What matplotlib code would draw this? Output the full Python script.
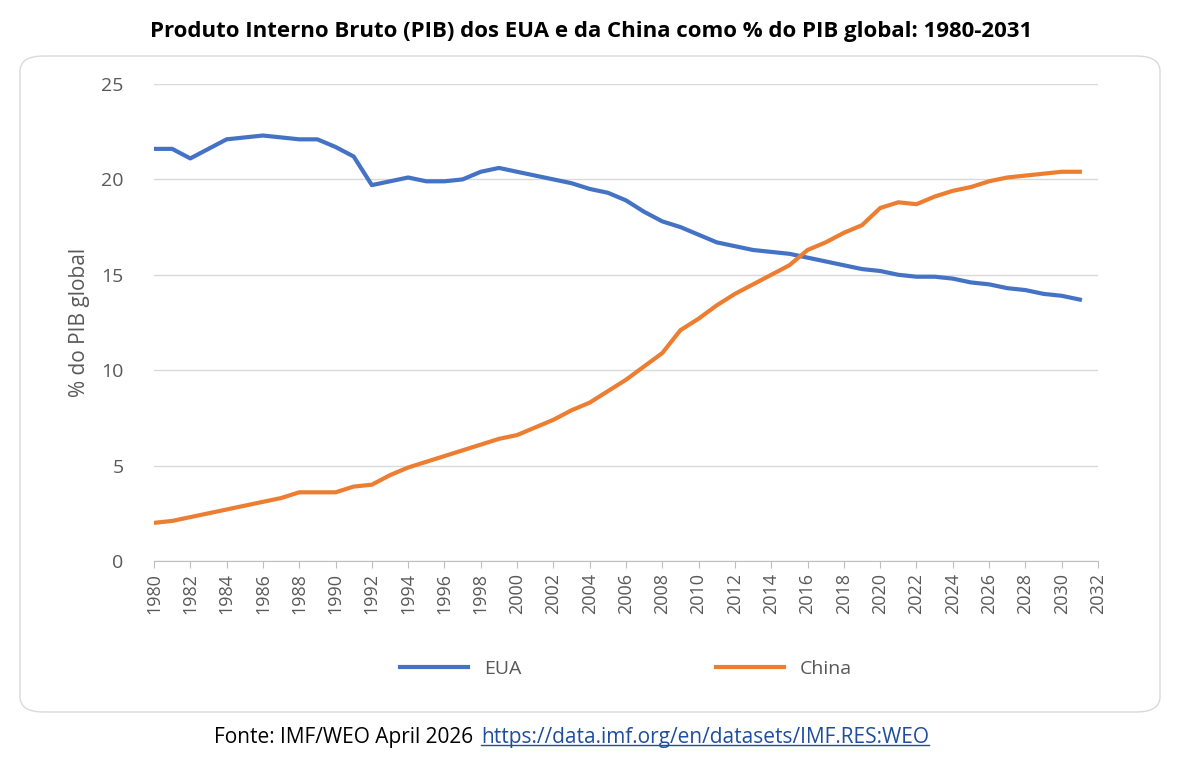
import matplotlib
matplotlib.use("Agg")
import matplotlib.pyplot as plt
from matplotlib.patches import FancyBboxPatch

years = list(range(1980, 2032))
eua = [21.6,21.6,21.1,21.6,22.1,22.2,22.3,22.2,22.1,22.1,21.7,21.2,19.7,19.9,20.1,19.9,19.9,20.0,20.4,20.6,
       20.4,20.2,20.0,19.8,19.5,19.3,18.9,18.3,17.8,17.5,17.1,16.7,16.5,16.3,16.2,16.1,15.9,15.7,15.5,15.3,
       15.2,15.0,14.9,14.9,14.8,14.6,14.5,14.3,14.2,14.0,13.9,13.7]
china = [2.0,2.1,2.3,2.5,2.7,2.9,3.1,3.3,3.6,3.6,3.6,3.9,4.0,4.5,4.9,5.2,5.5,5.8,6.1,6.4,
         6.6,7.0,7.4,7.9,8.3,8.9,9.5,10.2,10.9,12.1,12.7,13.4,14.0,14.5,15.0,15.5,16.3,16.7,17.2,17.6,
         18.5,18.8,18.7,19.1,19.4,19.6,19.9,20.1,20.2,20.3,20.4,20.4]
xticks = list(range(1980, 2033, 2))
yticks = [0, 5, 10, 15, 20, 25]

plt.rcParams['font.family'] = ['Open Sans', 'DejaVu Sans']
fig = plt.figure(figsize=(11.83, 7.68), dpi=100)
fig.patch.set_facecolor('white')
box = FancyBboxPatch((20/1183, 56/768), 1140/1183, 656/768, boxstyle="round,pad=0,rounding_size=0.02",
                     transform=fig.transFigure, facecolor='white', edgecolor='#d9d9d9', lw=1, zorder=-10)
fig.patches.append(box)

ax = fig.add_axes([154/1183, 1-561/768, 944/1183, 477/768])
ax.set_zorder(5)
ax.patch.set_alpha(0)
ax.plot(years, eua, color='#4472C4', lw=3, label='EUA')
ax.plot(years, china, color='#ED7D31', lw=3, label='China')
ax.set_xlim(1980, 2032)
ax.set_ylim(0, 25)
ax.set_xticks(xticks)
ax.set_xticklabels([str(t) for t in xticks], rotation=90, fontsize=13, color='#595959')
ax.set_yticks(yticks)
ax.set_yticklabels([str(t) for t in yticks], fontsize=14, color='#595959')
ax.tick_params(axis='y', length=0, pad=22)
ax.tick_params(axis='x', length=5, color='#bfbfbf')
ax.grid(axis='y', color='#d9d9d9', lw=1)
ax.set_axisbelow(True)
for s in ['top', 'right', 'left']:
    ax.spines[s].set_visible(False)
ax.spines['bottom'].set_color('#bfbfbf')
ax.set_ylabel('% do PIB global', fontsize=15, color='#595959', labelpad=8)
ax.legend(loc='upper center', bbox_to_anchor=(0.5, -0.17), ncol=2, frameon=False,
          fontsize=14, handlelength=3.5, columnspacing=10, labelcolor='#595959')

fig.text(0.5, 1-32/768, 'Produto Interno Bruto (PIB) dos EUA e da China como % do PIB global: 1980-2031',
         ha='center', va='center', fontsize=16, fontweight='bold')
fig.text(478/1183, 1-738/768, 'Fonte: IMF/WEO April 2026 ', ha='right', va='center', fontsize=15)
link = fig.text(481/1183, 1-738/768, 'https://data.imf.org/en/datasets/IMF.RES:WEO', ha='left', va='center',
                fontsize=15, color='#1F4E9E')
fig.canvas.draw()
bb = link.get_window_extent().transformed(fig.transFigure.inverted())
fig.add_artist(plt.Line2D([bb.x0, bb.x1], [bb.y0 + 0.004, bb.y0 + 0.004], color='#1F4E9E', lw=1))
fig.savefig('out.png', dpi=100)
